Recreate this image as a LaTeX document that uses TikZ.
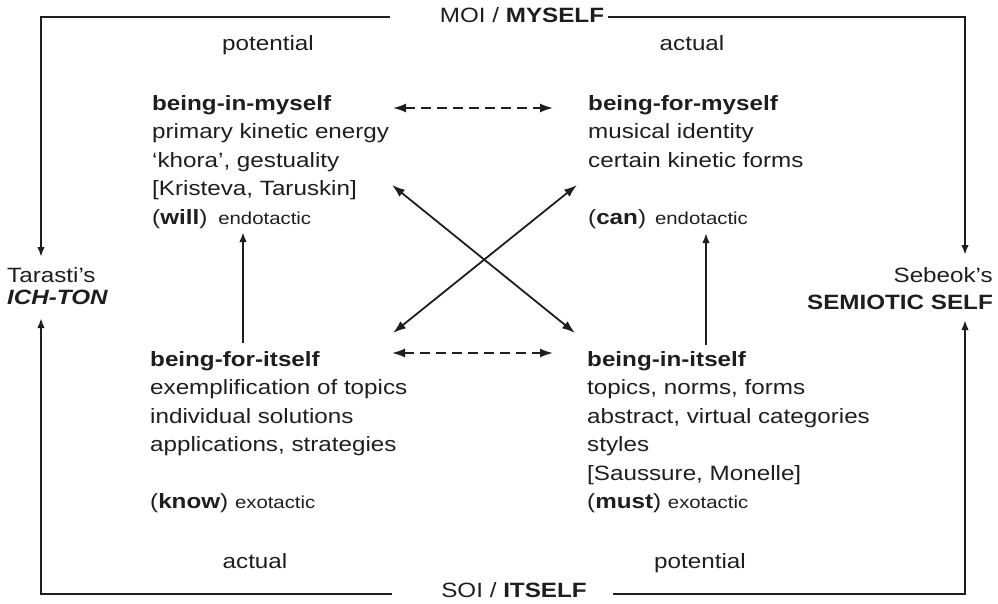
\documentclass[tikz,border=0pt]{standalone}
\usepackage{fontspec}
\setmainfont{Liberation Sans}[FakeStretch=1.17]
\usetikzlibrary{arrows.meta, positioning}
\definecolor{inkgray}{HTML}{1E1E1E}
\newcommand{\tacticfont}{\fontsize{17.4}{20}\selectfont}
\tikzset{
    labeltext/.style={anchor=base, inner sep=0pt, text=inkgray,
        font=\fontsize{20.7}{24}\selectfont},
    blocktext/.style={anchor=north west, align=left, inner sep=0pt, text=inkgray,
        font=\fontsize{20.7}{28.5}\selectfont},
    framearrow/.style={-{Latex[length=10pt, width=7.5pt]}, line width=2pt, draw=inkgray},
    dualarrow/.style={{Latex[length=13pt, width=9pt]}-{Latex[length=13pt, width=9pt]},
        line width=1.8pt, draw=inkgray},
    dasharrow/.style={dualarrow, dash pattern=on 10pt off 6pt},
}

\begin{document}
\begin{tikzpicture}[x=1pt, y=-1pt]
    \useasboundingbox (0,0) rectangle (998,604);

    % frame corners and line ends
    \coordinate (tl) at (41,17);
    \coordinate (tr) at (965,17);
    \coordinate (bl) at (41,594);
    \coordinate (br) at (965,594);
    \coordinate (moiend) at (390,17);
    \coordinate (moistart) at (608,17);
    \coordinate (soiend) at (392,594);
    \coordinate (soistart) at (613,594);
    \coordinate (ltop) at (41,257);
    \coordinate (lbot) at (41,318);
    \coordinate (rtop) at (965,255);
    \coordinate (rbot) at (965,320);

    \node[labeltext] (moi) at (522,23) {MOI / \textbf{MYSELF}};
    \node[labeltext] (soi) at (514,597) {SOI / \textbf{ITSELF}};

    \node[labeltext, anchor=base west] (tarasti) at (7,282) {Tarasti’s};
    \node[labeltext, anchor=base west] (ichton) at (7,304) {\textbf{\textit{ICH-TON}}};
    \node[labeltext, anchor=base east] (sebeok) at (993,282) {Sebeok’s};
    \node[labeltext, anchor=base east] (semiotic) at (993,309) {\textbf{SEMIOTIC SELF}};

    \node[labeltext] (toppot) at (268,51) {potential};
    \node[labeltext] (topact) at (692,51) {actual};
    \node[labeltext] (botact) at (255,568) {actual};
    \node[labeltext] (botpot) at (700,568) {potential};

    % the four blocks
    \node[blocktext] (inmyself) at (152,90)
        {\strut\textbf{being-in-myself}\\primary kinetic energy\\‘khora’, gestuality\\{}[Kristeva, Taruskin]\\(\textbf{will})\hspace{11pt}{\tacticfont endotactic}};
    \node[blocktext] (formyself) at (588,90)
        {\strut\textbf{being-for-myself}\\musical identity\\certain kinetic forms\\\strut\\(\textbf{can})\hspace{9pt}{\tacticfont endotactic}};
    \node[blocktext] (foritself) at (150,346)
        {\strut\textbf{being-for-itself}\\exemplification of topics\\individual solutions\\applications, strategies\\\strut\\(\textbf{know}) {\tacticfont exotactic}};
    \node[blocktext] (initself) at (587,346)
        {\strut\textbf{being-in-itself}\\topics, norms, forms\\abstract, virtual categories\\styles\\{}[Saussure, Monelle]\\(\textbf{must}) {\tacticfont exotactic}};

    % frame
    \draw[framearrow] (moiend) -- (tl) -- (ltop);
    \draw[framearrow] (soiend) -- (bl) -- (lbot);
    \draw[framearrow] (moistart) -- (tr) -- (rtop);
    \draw[framearrow] (soistart) -- (br) -- (rbot);

    % relations between the blocks
    \draw[dasharrow] ([xshift=241pt, yshift=-18pt]inmyself.north west) -- ([xshift=-35pt, yshift=-18pt]formyself.north west);
    \draw[dasharrow] ([xshift=242pt, yshift=-7pt]foritself.north west) -- ([xshift=-34pt, yshift=-7pt]initself.north west);
    \draw[dualarrow] ([xshift=240pt, yshift=-95pt]inmyself.north west) -- ([xshift=-12pt, yshift=13pt]initself.north west);
    \draw[dualarrow] ([xshift=-11pt, yshift=-95pt]formyself.north west) -- ([xshift=243pt, yshift=13pt]foritself.north west);
    \draw[framearrow] ([xshift=93pt, yshift=3pt]foritself.north west) -- ([xshift=91pt, yshift=-142pt]inmyself.north west);
    \draw[framearrow] ([xshift=119pt, yshift=1pt]initself.north west) -- ([xshift=118pt, yshift=-143pt]formyself.north west);
\end{tikzpicture}
\end{document}
